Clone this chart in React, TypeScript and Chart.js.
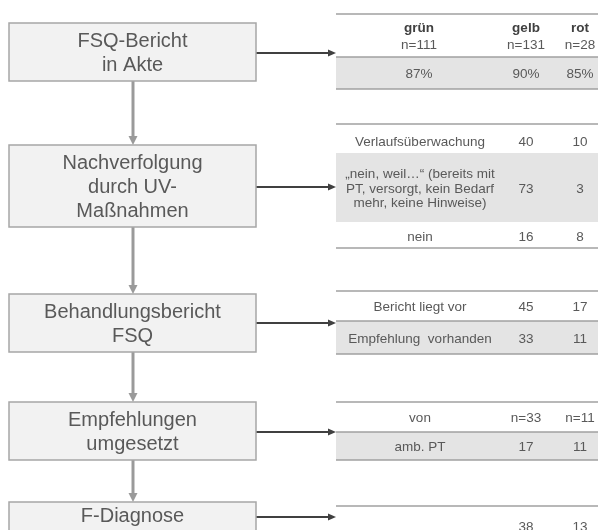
import React, { useEffect, useRef } from "react";
import { Chart, registerables } from "chart.js";

Chart.register(...registerables);

// ---- data ----
const steps = [
  ["FSQ-Bericht", "in Akte"],
  ["Nachverfolgung", "durch UV-", "Maßnahmen"],
  ["Behandlungsbericht", "FSQ"],
  ["Empfehlungen", "umgesetzt"],
  ["F-Diagnose"],
];
const groups = ["grün", "gelb", "rot"];
const groupN = ["n=111", "n=131", "n=28"];
const aktePct = ["87%", "90%", "85%"];

const nachLabels = [
  ["Verlaufsüberwachung"],
  ["„nein, weil…“ (bereits mit", "PT, versorgt, kein Bedarf", "mehr, keine Hinweise)"],
  ["nein"],
];
const nachGelb = ["40", "73", "16"];
const nachRot = ["10", "3", "8"];

const berichtLabels = [["Bericht liegt vor"], ["Empfehlung  vorhanden"]];
const berichtGelb = ["45", "33"];
const berichtRot = ["17", "11"];

const empfLabels = [["von"], ["amb. PT"]];
const empfGelb = ["n=33", "17"];
const empfRot = ["n=11", "11"];

const diagLabels = [[""]];
const diagGelb = ["38"];
const diagRot = ["13"];

// ---- layout (diagram space, mapped through chart scales) ----
const W = 598;
const H = 530;
const boxX0 = 9;
const boxX1 = 256;
const boxTops = [23, 145, 294, 402, 502];
const boxBottoms = [81, 227, 352, 460, 560];
const stepCenters = [52, 186, 323, 431, 515];
const arrowYs = [53, 187, 323, 432, 517];
const vArrowX = 133;
const tableX0 = 336;
const tableX1 = 598;
const colX = [420, 526, 580];

type Row = { top: number; bottom: number; shade: boolean; label: string[]; vals: string[]; dy: number };
type Table = { rows: Row[]; lines: number[] };

const mkRows = (labels: string[][], gelb: string[], rot: string[], bounds: number[], shades: boolean[], dys: number[]): Row[] =>
  labels.map((l, i) => ({ top: bounds[i], bottom: bounds[i + 1], shade: shades[i], label: l, vals: [gelb[i], rot[i]], dy: dys[i] }));

const tables: Table[] = [
  { rows: [], lines: [14, 57, 89] },
  { rows: mkRows(nachLabels, nachGelb, nachRot, [124, 153, 222, 248], [false, true, false], [2, 0, 1]), lines: [124, 248] },
  { rows: mkRows(berichtLabels, berichtGelb, berichtRot, [291, 321, 354], [false, true], [0, 0]), lines: [291, 321, 354] },
  { rows: mkRows(empfLabels, empfGelb, empfRot, [402, 432, 460], [false, true], [0, 0]), lines: [402, 432, 460] },
  { rows: mkRows(diagLabels, diagGelb, diagRot, [506, 536], [false], [5]), lines: [506] },
];

const FONT = '"Liberation Sans", Arial, sans-serif';
const TEXT = "#595959";

const diagramPlugin = {
  id: "diagram",
  afterDraw(chart: any) {
    const ctx: CanvasRenderingContext2D = chart.ctx;
    const sx = chart.scales.x;
    const sy = chart.scales.y;
    const px = (v: number) => sx.getPixelForValue(v);
    const py = (v: number) => sy.getPixelForValue(v);
    ctx.save();

    // vertical arrows between boxes
    ctx.strokeStyle = "#9a9a9a";
    ctx.fillStyle = "#9a9a9a";
    ctx.lineWidth = 3;
    for (let i = 0; i < steps.length - 1; i++) {
      const y0 = py(boxBottoms[i]);
      const y1 = py(boxTops[i + 1]);
      const x = px(vArrowX);
      ctx.beginPath();
      ctx.moveTo(x, y0);
      ctx.lineTo(x, y1 - 8);
      ctx.stroke();
      ctx.beginPath();
      ctx.moveTo(x - 4.5, y1 - 9);
      ctx.lineTo(x + 4.5, y1 - 9);
      ctx.lineTo(x, y1);
      ctx.closePath();
      ctx.fill();
    }

    // horizontal arrows
    ctx.strokeStyle = "#404040";
    ctx.fillStyle = "#404040";
    ctx.lineWidth = 2;
    arrowYs.forEach((ay) => {
      const y = py(ay);
      const x0 = px(boxX1);
      const x1 = px(tableX0);
      ctx.beginPath();
      ctx.moveTo(x0, y);
      ctx.lineTo(x1 - 7, y);
      ctx.stroke();
      ctx.beginPath();
      ctx.moveTo(x1 - 8, y - 3.5);
      ctx.lineTo(x1, y);
      ctx.lineTo(x1 - 8, y + 3.5);
      ctx.closePath();
      ctx.fill();
    });

    // boxes
    steps.forEach((lines, i) => {
      const x0 = px(boxX0), x1 = px(boxX1);
      const y0 = py(boxTops[i]), y1 = py(boxBottoms[i]);
      ctx.fillStyle = "#f2f2f2";
      ctx.fillRect(x0, y0, x1 - x0, y1 - y0);
      ctx.strokeStyle = "#a6a6a6";
      ctx.lineWidth = 1.5;
      ctx.strokeRect(x0, y0, x1 - x0, y1 - y0);
      ctx.fillStyle = TEXT;
      ctx.font = `20px ${FONT}`;
      ctx.textAlign = "center";
      ctx.textBaseline = "alphabetic";
      const lh = 23.7;
      const c = py(stepCenters[i]);
      const first = c - ((lines.length - 1) * lh) / 2 + 7;
      lines.forEach((t, k) => ctx.fillText(t, (x0 + x1) / 2, first + k * lh));
    });

    // table 1 (header + percentages)
    const t0 = tables[0];
    ctx.fillStyle = "#e4e4e4";
    ctx.fillRect(px(tableX0), py(t0.lines[1]), px(tableX1) - px(tableX0), py(t0.lines[2]) - py(t0.lines[1]));
    ctx.textAlign = "center";
    groups.forEach((g, j) => {
      const x = j === 0 ? px(colX[0]) - 1 : px(colX[j]);
      ctx.fillStyle = "#404040";
      ctx.font = `bold 13.5px ${FONT}`;
      ctx.fillText(g, x, py(32));
      ctx.fillStyle = TEXT;
      ctx.font = `13.5px ${FONT}`;
      ctx.fillText(groupN[j], x, py(49));
      ctx.fillText(aktePct[j], x, py(78));
    });

    // other tables
    tables.forEach((t) => {
      t.rows.forEach((r) => {
        if (r.shade) {
          ctx.fillStyle = "#e4e4e4";
          ctx.fillRect(px(tableX0), py(r.top), px(tableX1) - px(tableX0), py(r.bottom) - py(r.top));
        }
        const c = (r.top + r.bottom) / 2 + r.dy;
        ctx.fillStyle = TEXT;
        ctx.font = `13.5px ${FONT}`;
        ctx.textAlign = "center";
        const lh = 14.5;
        const first = c - ((r.label.length - 1) * lh) / 2 + 5;
        r.label.forEach((l, k) => ctx.fillText(l, px(colX[0]), py(first + k * lh)));
        r.vals.forEach((v, j) => ctx.fillText(v, px(colX[j + 1]), py(c + 5)));
      });
    });

    // table lines
    ctx.strokeStyle = "#a0a0a0";
    ctx.lineWidth = 1.5;
    tables.forEach((t) => {
      t.lines.forEach((ly) => {
        ctx.beginPath();
        ctx.moveTo(px(tableX0), py(ly));
        ctx.lineTo(px(tableX1), py(ly));
        ctx.stroke();
      });
    });

    ctx.restore();
  },
};

export default function App() {
  const ref = useRef<HTMLCanvasElement>(null);
  useEffect(() => {
    document.body.style.margin = "0";
    const chart = new Chart(ref.current as HTMLCanvasElement, {
      type: "scatter",
      data: { datasets: [{ data: [] }] },
      options: {
        responsive: false,
        animation: false,
        layout: { padding: 0 },
        plugins: { legend: { display: false }, tooltip: { enabled: false } },
        scales: {
          x: { type: "linear", min: 0, max: W, display: false },
          y: { type: "linear", min: 0, max: H, reverse: true, display: false },
        },
      },
      plugins: [diagramPlugin],
    } as any);
    return () => chart.destroy();
  }, []);
  return (
    <div style={{ position: "absolute", left: 0, top: 0, width: W, height: H, background: "#fff" }}>
      <canvas ref={ref} width={W} height={H} />
    </div>
  );
}
